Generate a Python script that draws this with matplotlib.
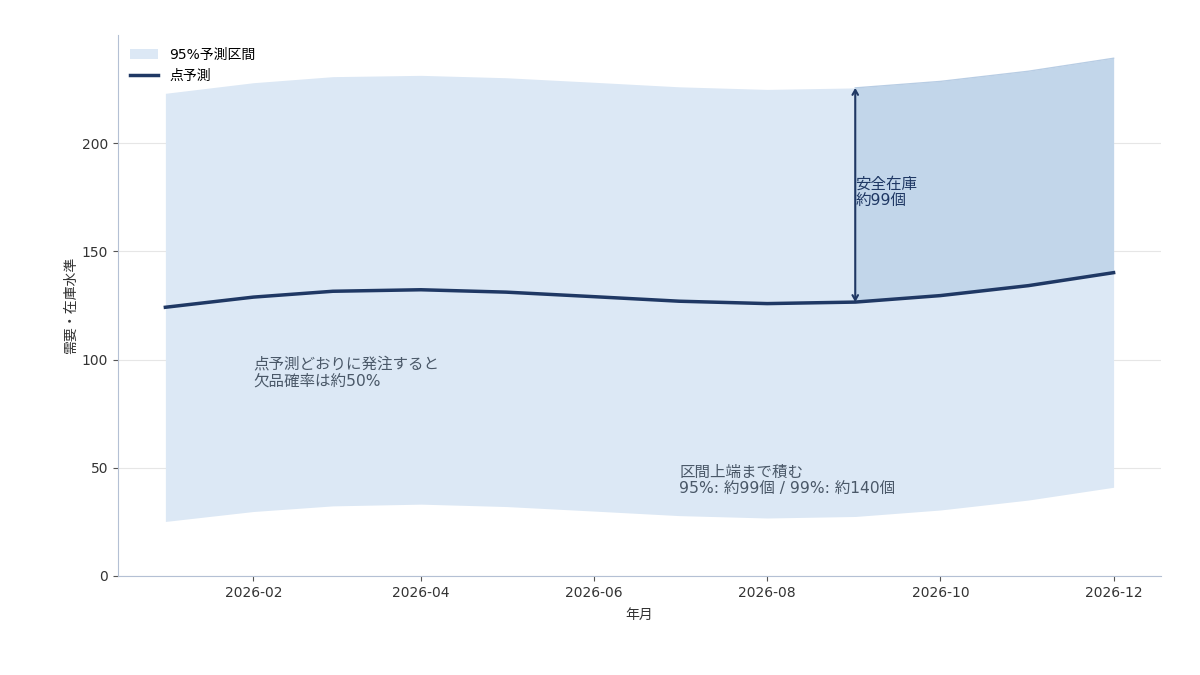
import matplotlib
matplotlib.use('Agg')
import matplotlib.pyplot as plt
import matplotlib.dates as mdates
import numpy as np
import pandas as pd

plt.rcParams['font.family'] = ['DejaVu Sans', 'Noto Sans CJK JP']

# 月次データ
months = pd.date_range('2026-01-01', '2026-12-01', freq='MS')
point_forecast = [124.2, 128.9, 131.6, 132.3, 131.2, 129.1, 127.0, 125.9, 126.6, 129.6, 134.2, 140.2]
upper_95 = [223.1, 228.0, 230.8, 231.4, 230.3, 228.2, 226.1, 224.9, 225.6, 228.6, 233.3, 239.3]
lower_95 = [25.2, 29.8, 32.4, 33.2, 32.1, 30.0, 27.9, 26.8, 27.5, 30.5, 35.1, 41.0]
safety_start = '2026-09-01'
safety_stock = 99

band_color = '#dce8f5'
safety_color = '#c2d6ea'
line_color = '#1f3864'
text_color = '#4a5868'
spine_color = '#b4c0d4'

fig = plt.figure(figsize=(12, 6.75), dpi=100)
ax = fig.add_axes([0.0983, 0.1467, 0.8692, 0.8013])

ax.fill_between(months, lower_95, upper_95, color=band_color, lw=0, label='95%予測区間', zorder=1)

mask = months >= pd.Timestamp(safety_start)
ax.fill_between(months[mask], np.array(point_forecast)[mask], np.array(upper_95)[mask],
                color=safety_color, lw=0, zorder=1.5)
ax.plot(months[mask], np.array(upper_95)[mask], color='#b8cde4', lw=1, zorder=1.6)

ax.plot(months, point_forecast, color=line_color, lw=2.5, label='点予測', zorder=3)

ax.set_ylim(bottom=0)

# 安全在庫の矢印
i = list(months).index(pd.Timestamp(safety_start))
ax.annotate('', xy=(months[i], upper_95[i]), xytext=(months[i], point_forecast[i]),
            arrowprops=dict(arrowstyle='<->,head_length=0.35,head_width=0.2', color=line_color,
                            lw=1.5, shrinkA=0, shrinkB=0),
            zorder=4)
ax.text(months[i], (upper_95[i] + point_forecast[i]) / 2 + 1, '安全在庫\n約%d個' % safety_stock,
        color=line_color, fontsize=11.2, ha='left', va='center', linespacing=1.2, zorder=5)

ax.text(months[1], 94, '点予測どおりに発注すると\n欠品確率は約50%',
        color=text_color, fontsize=11.2, ha='left', va='center', linespacing=1.2, zorder=5)
ax.text(months[6], 44, '区間上端まで積む\n95%: 約99個 / 99%: 約140個',
        color=text_color, fontsize=11.2, ha='left', va='center', linespacing=1.2, zorder=5)

ax.xaxis.set_major_locator(mdates.MonthLocator(bymonth=[2, 4, 6, 8, 10, 12]))
ax.xaxis.set_major_formatter(mdates.DateFormatter('%Y-%m'))

ax.set_yticks([0, 50, 100, 150, 200])
ax.grid(axis='y', color='#e6e6e6', lw=0.8, zorder=0)
ax.set_axisbelow(True)

for s in ['top', 'right']:
    ax.spines[s].set_visible(False)
for s in ['left', 'bottom']:
    ax.spines[s].set_color(spine_color)
ax.tick_params(colors='#333333', labelsize=10)
ax.tick_params(axis='both', color='#555555')

ax.set_xlabel('年月', fontsize=10, color='#333333', labelpad=6)
ax.set_ylabel('需要・在庫水準', fontsize=10, color='#333333', labelpad=3)

ax.legend(loc='upper left', frameon=False, fontsize=10, handlelength=2.0)

fig.savefig('out.png', dpi=100)
